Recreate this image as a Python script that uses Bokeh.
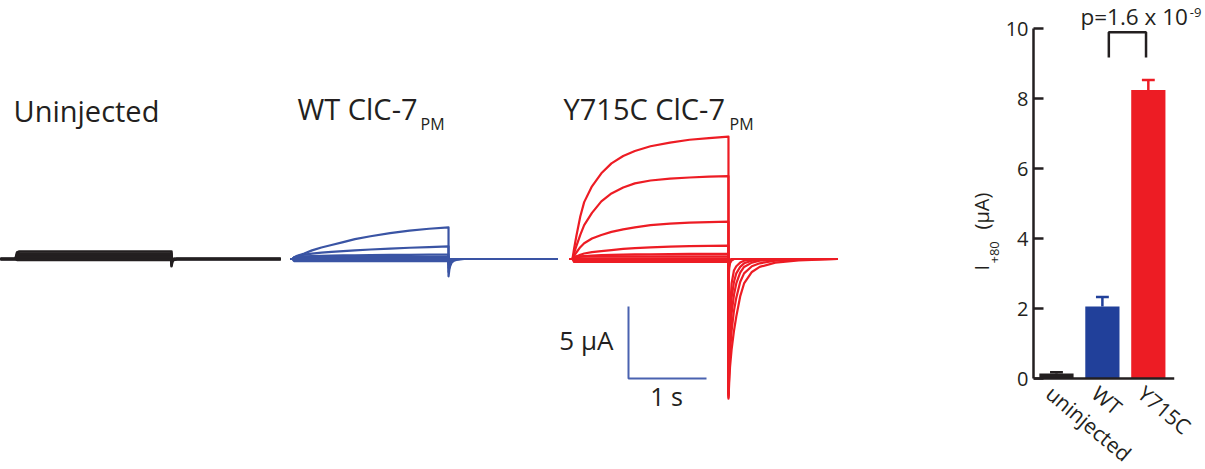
import math
import numpy as np
from bokeh.plotting import figure
from bokeh.layouts import row
from bokeh.models import Range1d, Label, FixedTicker
from bokeh.embed import file_html
from bokeh.resources import INLINE

# ---------------- data ----------------
# Voltage-clamp sweeps: current (uA) read at these times (s) during the test pulse
T_TEST = [0, 0.02, 0.05, 0.1, 0.15, 0.25, 0.37, 0.5, 0.65, 0.8, 1.0, 1.25, 1.5, 1.75, 2.0]
# ... and at these times (s) after the end of the 2 s test pulse (tail)
T_TAIL = [0, 0.01, 0.02, 0.04, 0.07, 0.1, 0.15, 0.2, 0.3, 0.4, 0.6, 0.9, 1.4]
PULSE_END = 2.0

UNINJ_TEST = [
    [0, 0.45, 0.52, 0.52, 0.52, 0.52, 0.52, 0.52, 0.52, 0.52, 0.52, 0.52, 0.52, 0.52, 0.52],
    [0, 0.33, 0.38, 0.38, 0.38, 0.38, 0.38, 0.38, 0.38, 0.38, 0.38, 0.38, 0.38, 0.38, 0.38],
    [0, 0.22, 0.26, 0.26, 0.26, 0.26, 0.26, 0.26, 0.26, 0.26, 0.26, 0.26, 0.26, 0.26, 0.26],
    [0, 0.12, 0.14, 0.14, 0.14, 0.14, 0.14, 0.14, 0.14, 0.14, 0.14, 0.14, 0.14, 0.14, 0.14],
    [0, 0.04, 0.04, 0.04, 0.04, 0.04, 0.04, 0.04, 0.04, 0.04, 0.04, 0.04, 0.04, 0.04, 0.04],
    [0, -0.06, -0.06, -0.06, -0.06, -0.06, -0.06, -0.06, -0.06, -0.06, -0.06, -0.06, -0.06, -0.06, -0.06],
]
UNINJ_TAIL = [
    [-0.5, -0.2, -0.1, -0.05, 0, 0, 0, 0, 0, 0, 0, 0, 0],
    [-0.4, -0.15, -0.08, -0.03, 0, 0, 0, 0, 0, 0, 0, 0, 0],
    [-0.3, -0.1, -0.05, 0, 0, 0, 0, 0, 0, 0, 0, 0, 0],
    [-0.2, -0.08, -0.03, 0, 0, 0, 0, 0, 0, 0, 0, 0, 0],
    [-0.1, -0.05, 0, 0, 0, 0, 0, 0, 0, 0, 0, 0, 0],
    [-0.1, -0.05, 0, 0, 0, 0, 0, 0, 0, 0, 0, 0, 0],
]

WT_TEST = [
    [0, 0.12, 0.2, 0.3, 0.38, 0.6, 0.8, 0.97, 1.17, 1.38, 1.58, 1.8, 1.97, 2.1, 2.2],
    [0, 0.1, 0.17, 0.25, 0.3, 0.37, 0.44, 0.5, 0.55, 0.6, 0.66, 0.72, 0.78, 0.83, 0.88],
    [0, 0.05, 0.1, 0.15, 0.18, 0.2, 0.22, 0.24, 0.25, 0.26, 0.27, 0.28, 0.29, 0.3, 0.3],
    [0, 0.1, 0.15, 0.15, 0.15, 0.15, 0.15, 0.15, 0.15, 0.15, 0.15, 0.15, 0.15, 0.15, 0.15],
    [0, 0.05, 0.05, 0.05, 0.05, 0.05, 0.05, 0.05, 0.05, 0.05, 0.05, 0.05, 0.05, 0.05, 0.05],
    [0, -0.05, -0.05, -0.05, -0.05, -0.05, -0.05, -0.05, -0.05, -0.05, -0.05, -0.05, -0.05, -0.05, -0.05],
    [0, -0.15, -0.15, -0.15, -0.15, -0.15, -0.15, -0.15, -0.15, -0.15, -0.15, -0.15, -0.15, -0.15, -0.15],
]
WT_TAIL = [
    [-1.2, -0.75, -0.5, -0.25, -0.12, -0.06, -0.03, 0, 0, 0, 0, 0, 0],
    [-0.9, -0.5, -0.3, -0.15, -0.07, -0.03, 0, 0, 0, 0, 0, 0, 0],
    [-0.6, -0.3, -0.15, -0.07, -0.03, 0, 0, 0, 0, 0, 0, 0, 0],
    [-0.4, -0.15, -0.07, 0, 0, 0, 0, 0, 0, 0, 0, 0, 0],
    [-0.3, -0.1, -0.05, 0, 0, 0, 0, 0, 0, 0, 0, 0, 0],
    [-0.2, -0.1, -0.05, 0, 0, 0, 0, 0, 0, 0, 0, 0, 0],
    [-0.2, -0.1, -0.05, 0, 0, 0, 0, 0, 0, 0, 0, 0, 0],
]

Y715C_TEST = [
    [0, 0.7, 1.6, 2.95, 3.95, 5.05, 5.95, 6.64, 7.15, 7.5, 7.83, 8.08, 8.28, 8.4, 8.5],
    [0, 0.38, 0.9, 1.68, 2.35, 3.2, 4.0, 4.55, 4.97, 5.25, 5.45, 5.58, 5.66, 5.72, 5.76],
    [0, 0.2, 0.45, 0.82, 1.09, 1.42, 1.67, 1.88, 2.06, 2.2, 2.35, 2.45, 2.52, 2.56, 2.59],
    [0, 0.08, 0.17, 0.3, 0.38, 0.48, 0.55, 0.62, 0.7, 0.76, 0.81, 0.86, 0.89, 0.91, 0.93],
    [0, 0.05, 0.1, 0.16, 0.2, 0.24, 0.27, 0.29, 0.31, 0.32, 0.33, 0.34, 0.35, 0.35, 0.35],
    [0, 0.12, 0.18, 0.18, 0.18, 0.18, 0.18, 0.18, 0.18, 0.18, 0.18, 0.18, 0.18, 0.18, 0.18],
    [0, 0.05, 0.05, 0.05, 0.05, 0.05, 0.05, 0.05, 0.05, 0.05, 0.05, 0.05, 0.05, 0.05, 0.05],
    [0, -0.08, -0.08, -0.08, -0.08, -0.08, -0.08, -0.08, -0.08, -0.08, -0.08, -0.08, -0.08, -0.08, -0.08],
    [0, -0.2, -0.2, -0.2, -0.2, -0.2, -0.2, -0.2, -0.2, -0.2, -0.2, -0.2, -0.2, -0.2, -0.2],
]
Y715C_TAIL = [
    [-9.7, -8.5, -7.5, -6.3, -5.0, -4.0, -2.6, -1.7, -0.9, -0.55, -0.25, -0.1, 0],
    [-9.6, -7.8, -6.5, -5.0, -3.6, -2.7, -1.6, -1.0, -0.5, -0.3, -0.12, -0.05, 0],
    [-9.5, -7.0, -5.5, -3.8, -2.5, -1.7, -0.95, -0.55, -0.25, -0.12, -0.05, 0, 0],
    [-9.4, -6.3, -4.5, -2.7, -1.6, -1.0, -0.55, -0.3, -0.12, -0.05, 0, 0, 0],
    [-9.3, -5.5, -3.6, -1.7, -0.8, -0.5, -0.25, -0.12, -0.05, 0, 0, 0, 0],
    [-1.5, -0.6, -0.3, -0.1, 0, 0, 0, 0, 0, 0, 0, 0, 0],
    [-1.0, -0.4, -0.2, -0.05, 0, 0, 0, 0, 0, 0, 0, 0, 0],
    [-0.6, -0.25, -0.1, 0, 0, 0, 0, 0, 0, 0, 0, 0, 0],
    [-0.4, -0.15, -0.05, 0, 0, 0, 0, 0, 0, 0, 0, 0, 0],
]

TRACE_TITLES = ["Uninjected", "WT ClC-7", "Y715C ClC-7"]
TRACE_SUBSCRIPTS = ["", "PM", "PM"]
SCALE_CURRENT = 5   # uA
SCALE_TIME = 1      # s
SCALE_LABELS = ["5 μA", "1 s"]

# Bar chart: I(+80 mV) in uA, mean and SEM
BAR_CATEGORIES = ["uninjected", "WT", "Y715C"]
BAR_MEANS = [0.14, 2.06, 8.24]
BAR_SEMS = [0.04, 0.27, 0.29]
BAR_TICKS = [0, 2, 4, 6, 8, 10]
Y_LABEL = ["I", "+80", "(μA)"]
P_TEXT = "p=1.6 x 10"
P_EXP = "-9"
COMPARE = ("WT", "Y715C")

# ---------------- style ----------------
FONT = "Open Sans"
TXT = "#231f20"
BLACK = "#231f20"
BLUE = "#3a54a4"
RED = "#ed1c24"
BAR_COLORS = ["#231f20", "#21409a", "#ed1c24"]
SCALE_COLOR = "#4a62b0"

W, H = 1205, 469
PX_PER_S = 78.0
PX_PER_UA = 14.4
BASE_PY = 258.5          # page row of the 0 uA baseline
LW = 1002                # width of the traces panel
AX_PX = 1029             # page column of the bar-chart y axis
BAR_PX = 47.0            # pixels per category
UA_PX = 35.0             # pixels per uA in bar chart
ZERO_PY = 378            # page row of 0 uA in bar chart
BASE_SHIFT = 0.40        # label anchor sits this many em above the text baseline

# ---------------- left panel: traces ----------------
left = figure(width=LW, height=H, output_backend="svg", toolbar_location=None,
              x_range=Range1d(0, LW / PX_PER_S),
              y_range=Range1d(-(H - BASE_PY) / PX_PER_UA, BASE_PY / PX_PER_UA),
              x_axis_location=None, y_axis_location=None, min_border=0)
left.outline_line_color = None
left.grid.visible = False

groups = [
    (0.192, -0.2, UNINJ_TEST, UNINJ_TAIL, BLACK, 2.6),
    (3.744, -0.03, WT_TEST, WT_TAIL, BLUE, 2.2),
    (7.333, -0.04, Y715C_TEST, Y715C_TAIL, RED, 2.2),
]
t_test = np.array(T_TEST)
t_tail = np.array(T_TAIL) + PULSE_END
for off, pre, tests, tails, col, lw in groups:
    xs, ys = [], []
    for te, ta in zip(tests, tails):
        xs.append(list(off + np.concatenate([[pre], t_test, t_tail])))
        ys.append([0.0] + list(te) + list(ta))
    left.multi_line(xs, ys, line_color=col, line_width=lw, line_join="round")


def ltext(p, x, y, text, size, align="left", baseline="alphabetic", angle=0.0, color=TXT):
    p.add_layout(Label(x=x, y=y, text=text, text_font=FONT, text_font_size=f"{size}px",
                       text_color=color, text_align=align, text_baseline=baseline,
                       angle=angle))


def lx(px):
    return px / PX_PER_S


def ly(py):
    return (BASE_PY - py) / PX_PER_UA


def htext(p, fx, fy, px, py, text, size, align="left"):
    # horizontal text whose baseline is at page row py
    ltext(p, fx(px), fy(py - BASE_SHIFT * size), text, size, align=align)


# titles
title_pos = [(13, 121.5), (297, 119.5), (563, 119.5)]
sub_pos = [None, (420, 130), (729, 130)]
for (x, y), t, sp, s in zip(title_pos, TRACE_TITLES, sub_pos, TRACE_SUBSCRIPTS):
    htext(left, lx, ly, x, y, t, 29)
    if sp is not None:
        htext(left, lx, ly, sp[0], sp[1], s, 16)

# scale bar
sx0, sy0 = lx(628), ly(378)
left.line([sx0, sx0, sx0 + SCALE_TIME], [sy0 + SCALE_CURRENT, sy0, sy0], line_color=SCALE_COLOR,
          line_width=2)
htext(left, lx, ly, 613, 350, SCALE_LABELS[0], 26, align="right")
htext(left, lx, ly, 666, 405, SCALE_LABELS[1], 25, align="center")

# y-axis title of the bar chart (rotated, with subscript); baseline at page column bx
ang = math.pi / 2
for bx, by, t, s in [(989, 270, Y_LABEL[0], 20), (999.5, 263, Y_LABEL[1], 13),
                     (989, 229, Y_LABEL[2], 20)]:
    ltext(left, lx(bx - BASE_SHIFT * s), ly(by), t, s, angle=ang)

# ---------------- right panel: bar chart ----------------
RW = W - LW
BL = AX_PX - LW
right = figure(width=RW, height=H, output_backend="svg", toolbar_location=None,
               x_range=Range1d(0.5, 0.5 + (RW - BL) / BAR_PX),
               y_range=Range1d(-(H - ZERO_PY) / UA_PX, ZERO_PY / UA_PX),
               x_axis_location=None,
               min_border_left=BL, min_border_right=0, min_border_top=0, min_border_bottom=0)
right.outline_line_color = None
right.grid.visible = False

xpos = np.arange(1, len(BAR_CATEGORIES) + 1)
means = np.array(BAR_MEANS)
sems = np.array(BAR_SEMS)
right.vbar(x=xpos, top=means, width=0.745, color=BAR_COLORS, line_color=None)
right.segment(x0=xpos, y0=means, x1=xpos, y1=means + sems, line_color=BAR_COLORS, line_width=2.5)
right.segment(x0=xpos - 0.14, y0=means + sems, x1=xpos + 0.14, y1=means + sems,
              line_color=BAR_COLORS, line_width=2.5)

# x axis line (category axis without ticks)
right.segment(x0=[0.5], y0=[0], x1=[len(BAR_CATEGORIES) + 0.564], y1=[0], line_color=TXT,
              line_width=2.5)

# significance bracket
i0 = BAR_CATEGORIES.index(COMPARE[0]) + 1
i1 = BAR_CATEGORIES.index(COMPARE[1]) + 1
yb = float(np.max(means + sems)) + 0.64
right.line([i0 + 0.14, i0 + 0.14, i1 - 0.05, i1 - 0.05], [yb, yb + 0.72, yb + 0.72, yb],
           line_color=TXT, line_width=2.5)


def rx(px):
    return (px - 1052.5) / BAR_PX + 1


def ry(py):
    return (ZERO_PY - py) / UA_PX


htext(right, rx, ry, 1077, 25, P_TEXT, 22.5)
htext(right, rx, ry, 1189, 17.5, P_EXP, 13)

ya = right.yaxis[0]
ya.ticker = FixedTicker(ticks=BAR_TICKS)
ya.bounds = (0, 10)
ya.axis_line_width = 2.5
ya.axis_line_color = TXT
ya.major_tick_in = 10
ya.major_tick_out = 0
ya.major_tick_line_width = 2.5
ya.major_tick_line_color = TXT
ya.minor_tick_line_color = None
ya.major_label_text_font = FONT
ya.major_label_text_font_size = "20px"
ya.major_label_text_color = TXT
ya.major_label_standoff = 5

# rotated category labels
for i, c in zip(xpos, BAR_CATEGORIES):
    ltext(right, i + 0.04, ry(379), c, 21, baseline="top", angle=-0.70)

layout = row(left, right)
open("out.html", "w").write(file_html(layout, INLINE))
